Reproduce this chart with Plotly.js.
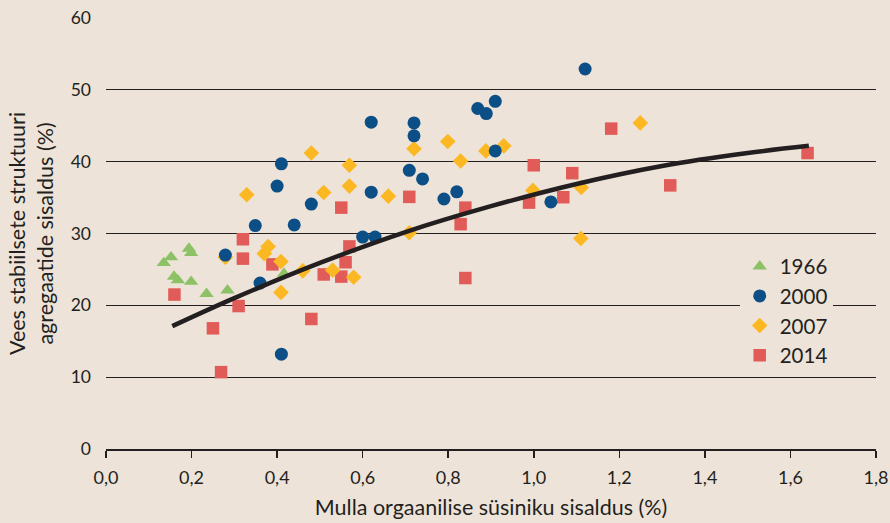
<!DOCTYPE html>
<html>
<head>
<meta charset="utf-8">
<script src="https://cdn.plot.ly/plotly-3.0.1.min.js"></script>
<style>html,body{margin:0;padding:0;background:#ede3d8;}#chart{width:890px;height:523px;}</style>
</head>
<body>
<div id="chart"></div>
<script>
// 1966
var x1966 = [0.135, 0.152, 0.159, 0.168, 0.194, 0.199, 0.199, 0.235, 0.284, 0.416];
var y1966 = [25.9, 26.7, 24.0, 23.5, 27.9, 27.3, 23.3, 21.6, 22.1, 24.4];
// 2000
var x2000 = [0.279, 0.349, 0.360, 0.400, 0.410, 0.410, 0.440, 0.480, 0.600, 0.620, 0.620, 0.629, 0.709, 0.720, 0.720, 0.740, 0.790, 0.820, 0.869, 0.889, 0.910, 0.910, 1.040, 1.120];
var y2000 = [27.0, 31.1, 23.1, 36.6, 39.7, 13.2, 31.2, 34.1, 29.5, 45.5, 35.75, 29.5, 38.8, 45.4, 43.6, 37.6, 34.8, 35.8, 47.4, 46.7, 48.4, 41.5, 34.4, 52.9];
// 2007
var x2007 = [0.279, 0.329, 0.370, 0.379, 0.409, 0.409, 0.460, 0.480, 0.509, 0.530, 0.569, 0.569, 0.579, 0.660, 0.709, 0.720, 0.799, 0.829, 0.888, 0.930, 0.998, 1.110, 1.111, 1.249];
var y2007 = [26.7, 35.4, 27.2, 28.2, 26.1, 21.8, 24.8, 41.2, 35.7, 24.9, 39.5, 36.6, 23.9, 35.2, 30.1, 41.8, 42.8, 40.1, 41.5, 42.2, 36.0, 29.3, 36.4, 45.4];
// 2014
var x2014 = [0.160, 0.250, 0.269, 0.310, 0.320, 0.320, 0.389, 0.480, 0.509, 0.550, 0.550, 0.560, 0.569, 0.709, 0.829, 0.840, 0.840, 0.989, 1.000, 1.069, 1.090, 1.181, 1.319, 1.640];
var y2014 = [21.5, 16.8, 10.7, 19.9, 29.2, 26.5, 25.7, 18.1, 24.3, 33.6, 24.0, 26.0, 28.2, 35.1, 31.3, 33.6, 23.8, 34.3, 39.5, 35.05, 38.4, 44.6, 36.7, 41.2];
// trend curve
var xTrend = [0.155, 0.3, 0.5, 0.7, 0.9, 1.1, 1.3, 1.5, 1.643];
var yTrend = [17.1, 21.0, 25.9, 30.2, 33.8, 36.9, 39.4, 41.2, 42.2];

var seriesNames = ['1966', '2000', '2007', '2014'];
var xTicks = [0, 0.2, 0.4, 0.6, 0.8, 1.0, 1.2, 1.4, 1.6, 1.8];
var xTickText = ['0,0', '0,2', '0,4', '0,6', '0,8', '1,0', '1,2', '1,4', '1,6', '1,8'];
var yTicks = [0, 10, 20, 30, 40, 50, 60];

var ink = '#231f20';
var bg = '#ede3d8';
var font = 'Lato, "Open Sans", sans-serif';

var traces = [
  {x: x2014, y: y2014, name: seriesNames[3], type: 'scatter', mode: 'markers', legendrank: 4,
   marker: {symbol: 'square', size: 12.5, color: '#e15b59', line: {width: 0}}},
  {x: x2007, y: y2007, name: seriesNames[2], type: 'scatter', mode: 'markers', legendrank: 3,
   marker: {symbol: 'diamond', size: 12, color: '#fcb823', line: {width: 0}}},
  {x: x2000, y: y2000, name: seriesNames[1], type: 'scatter', mode: 'markers', legendrank: 2,
   marker: {symbol: 'circle', size: 13, color: '#0b4f86', line: {width: 0}}},
  {x: x1966, y: y1966, name: seriesNames[0], type: 'scatter', mode: 'markers', legendrank: 1,
   marker: {symbol: 'triangle-up', size: 12.5, color: '#8cc265', line: {width: 0}}},
  {x: xTrend, y: yTrend, type: 'scatter', mode: 'lines', showlegend: false, hoverinfo: 'skip',
   line: {color: ink, width: 4.5, shape: 'spline'}}
];

var layout = {
  width: 890, height: 523,
  paper_bgcolor: bg, plot_bgcolor: bg,
  margin: {l: 106, r: 14, t: 18, b: 74, pad: 0},
  font: {family: font, color: ink, size: 18},
  showlegend: true,
  legend: {x: 0.823, xanchor: 'left', y: 0.47, yanchor: 'top', bgcolor: bg, borderwidth: 0,
           font: {family: font, size: 20.5, color: ink}, itemwidth: 30, tracegroupgap: 0},
  xaxis: {
    range: [0, 1.8], tickvals: xTicks, ticktext: xTickText,
    showgrid: false, zeroline: false, showline: true, linecolor: ink, linewidth: 1.5,
    ticks: 'outside', ticklen: 7, tickwidth: 1.5, tickcolor: ink,
    tickfont: {family: font, size: 18, color: ink}, ticklabelstandoff: 5,
    title: {text: 'Mulla orgaanilise süsiniku sisaldus (%)', font: {family: font, size: 21.5, color: ink}, standoff: 13}
  },
  yaxis: {
    range: [0, 60], tickvals: yTicks,
    showgrid: true, gridcolor: ink, gridwidth: 1.3, zeroline: false, showline: false,
    ticks: '', tickfont: {family: font, size: 17.5, color: ink}, ticklabelstandoff: 14,
    title: {text: 'Vees stabiilsete struktuuri<br>agregaatide sisaldus (%)', font: {family: font, size: 21.5, color: ink}, standoff: 11}
  }
};

Plotly.newPlot('chart', traces, layout, {displayModeBar: false, staticPlot: true});
</script>
</body>
</html>
